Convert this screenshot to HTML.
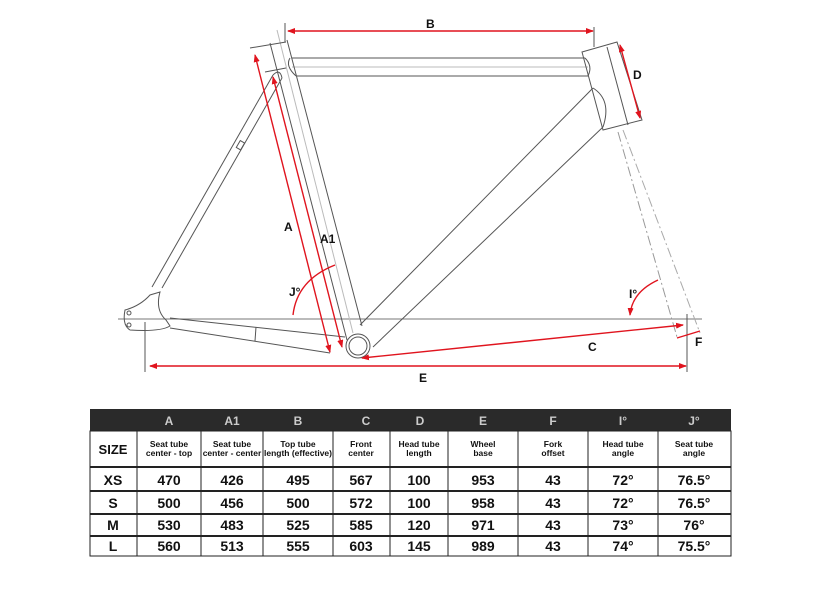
<!DOCTYPE html>
<html><head><meta charset="utf-8"><style>
html,body{margin:0;padding:0;background:#fff;width:822px;height:600px;overflow:hidden}
svg{display:block}
text{font-family:"Liberation Sans Narrow","Liberation Sans",sans-serif;font-weight:bold}
</style></head><body>
<svg width="822" height="600" viewBox="0 0 822 600" xmlns="http://www.w3.org/2000/svg">
<defs>
<marker id="ar" markerWidth="8" markerHeight="6" refX="7" refY="3" orient="auto" markerUnits="userSpaceOnUse"><path d="M0,0 L8,3 L0,6z" fill="#e0141e"/></marker>
<marker id="al" markerWidth="8" markerHeight="6" refX="1" refY="3" orient="auto" markerUnits="userSpaceOnUse"><path d="M8,0 L0,3 L8,6z" fill="#e0141e"/></marker>
</defs>
<g stroke="#555" stroke-width="1" fill="none">
<line x1="118" y1="319" x2="702" y2="319" stroke="#777"/>
<line x1="145" y1="322" x2="145" y2="372"/>
<line x1="687" y1="314" x2="687" y2="372"/>
<line x1="285" y1="23" x2="285" y2="42"/>
<line x1="594" y1="27" x2="594" y2="47"/>
<line x1="292" y1="58" x2="585" y2="58"/>
<line x1="296" y1="76" x2="588" y2="76"/>
<line x1="292" y1="67" x2="588" y2="67" stroke="#bbb"/>
<line x1="270" y1="43" x2="347" y2="340"/>
<line x1="277" y1="30" x2="353" y2="333" stroke="#bbb"/>
<line x1="287" y1="40" x2="362" y2="326"/>
<line x1="250" y1="48" x2="286" y2="42"/>
<line x1="265" y1="72" x2="286" y2="68"/>
<path d="M290,58 Q285,66 296,76"/>
<line x1="152" y1="287" x2="273" y2="75"/>
<line x1="162" y1="288" x2="282" y2="78"/>
<path d="M273,75 Q280,68 282,78"/>
<rect x="238" y="141" width="5" height="8" transform="rotate(30 240 145)"/>
<path d="M125,310 Q140,306 150,295 L160,292 Q155,310 166,320 L170,326 Q160,332 130,330 Q122,325 125,310z"/>
<circle cx="129" cy="313" r="2"/><circle cx="129" cy="325" r="2"/>
<line x1="170" y1="318" x2="345" y2="337"/>
<line x1="170" y1="328" x2="330" y2="353"/>
<line x1="256" y1="327" x2="255" y2="341"/>
<circle cx="358" cy="346" r="12"/>
<circle cx="358" cy="346" r="9"/>
<line x1="360" y1="325" x2="593" y2="88"/>
<line x1="373" y1="347" x2="603" y2="127"/>
<path d="M593,88 Q612,100 603,127"/>
<path d="M585,58 Q593,66 588,76"/>
<polygon points="582,52 617,42 642,120 603,130"/>
<line x1="607" y1="47" x2="628" y2="125"/>
<line x1="618" y1="132" x2="677" y2="337" stroke="#999" stroke-dasharray="10,3,2,3"/>
<line x1="623" y1="130" x2="700" y2="333" stroke="#aaa" stroke-dasharray="10,3,2,3"/>
</g>
<g stroke="#e0141e" stroke-width="1.4" fill="none">
<line x1="288" y1="31" x2="593" y2="31" marker-start="url(#al)" marker-end="url(#ar)"/>
<line x1="255" y1="55" x2="330" y2="352" marker-start="url(#al)" marker-end="url(#ar)"/>
<line x1="273" y1="77" x2="342" y2="347" marker-start="url(#al)" marker-end="url(#ar)"/>
<line x1="620" y1="45" x2="640" y2="118" marker-start="url(#al)" marker-end="url(#ar)"/>
<line x1="362" y1="358" x2="683" y2="325" marker-start="url(#al)" marker-end="url(#ar)"/>
<line x1="150" y1="366" x2="686" y2="366" marker-start="url(#al)" marker-end="url(#ar)"/>
<line x1="677" y1="338" x2="700" y2="331"/>
<path d="M293,315 Q297,280 335,265"/>
<path d="M630,315 Q632,292 658,280" marker-start="url(#al)"/>
</g>
<g fill="#111" font-size="12">
<text x="426" y="28">B</text>
<text x="633" y="79">D</text>
<text x="284" y="231">A</text>
<text x="320" y="243">A1</text>
<text x="289" y="296">J°</text>
<text x="629" y="298">I°</text>
<text x="588" y="351">C</text>
<text x="695" y="346">F</text>
<text x="419" y="382">E</text>
</g>
<rect x="90" y="409" width="641" height="22" fill="#2a2a2a"/>
<g fill="#ccc" font-size="12" text-anchor="middle">
<text x="169" y="425">A</text><text x="232" y="425">A1</text><text x="298" y="425">B</text><text x="366" y="425">C</text><text x="420" y="425">D</text><text x="483" y="425">E</text><text x="553" y="425">F</text><text x="623" y="425">I°</text><text x="694" y="425">J°</text>
</g>
<g stroke="#222" stroke-width="1" fill="none">
<rect x="90" y="431" width="641" height="125"/>
<line x1="90" y1="467" x2="731" y2="467" stroke-width="2"/>
<line x1="90" y1="491" x2="731" y2="491" stroke-width="2"/>
<line x1="90" y1="514" x2="731" y2="514" stroke-width="2"/>
<line x1="90" y1="536" x2="731" y2="536" stroke-width="2"/>
<line x1="137" y1="431" x2="137" y2="556"/><line x1="201" y1="431" x2="201" y2="556"/><line x1="263" y1="431" x2="263" y2="556"/><line x1="333" y1="431" x2="333" y2="556"/><line x1="390" y1="431" x2="390" y2="556"/><line x1="448" y1="431" x2="448" y2="556"/><line x1="518" y1="431" x2="518" y2="556"/><line x1="588" y1="431" x2="588" y2="556"/><line x1="658" y1="431" x2="658" y2="556"/>
</g>
<g fill="#111" text-anchor="middle">
<text x="113" y="454" font-size="13">SIZE</text>
<g font-size="8.5">
<text x="169" y="447">Seat tube</text><text x="169" y="456">center - top</text>
<text x="232" y="447">Seat tube</text><text x="232" y="456">center - center</text>
<text x="298" y="447">Top tube</text><text x="298" y="456">length (effective)</text>
<text x="361" y="447">Front</text><text x="361" y="456">center</text>
<text x="419" y="447">Head tube</text><text x="419" y="456">length</text>
<text x="483" y="447">Wheel</text><text x="483" y="456">base</text>
<text x="553" y="447">Fork</text><text x="553" y="456">offset</text>
<text x="623" y="447">Head tube</text><text x="623" y="456">angle</text>
<text x="694" y="447">Seat tube</text><text x="694" y="456">angle</text>
</g>
<g font-size="14">
<text x="113" y="485">XS</text><text x="169" y="485">470</text><text x="232" y="485">426</text><text x="298" y="485">495</text><text x="361" y="485">567</text><text x="419" y="485">100</text><text x="483" y="485">953</text><text x="553" y="485">43</text><text x="623" y="485">72°</text><text x="694" y="485">76.5°</text>
<text x="113" y="508">S</text><text x="169" y="508">500</text><text x="232" y="508">456</text><text x="298" y="508">500</text><text x="361" y="508">572</text><text x="419" y="508">100</text><text x="483" y="508">958</text><text x="553" y="508">43</text><text x="623" y="508">72°</text><text x="694" y="508">76.5°</text>
<text x="113" y="530">M</text><text x="169" y="530">530</text><text x="232" y="530">483</text><text x="298" y="530">525</text><text x="361" y="530">585</text><text x="419" y="530">120</text><text x="483" y="530">971</text><text x="553" y="530">43</text><text x="623" y="530">73°</text><text x="694" y="530">76°</text>
<text x="113" y="551">L</text><text x="169" y="551">560</text><text x="232" y="551">513</text><text x="298" y="551">555</text><text x="361" y="551">603</text><text x="419" y="551">145</text><text x="483" y="551">989</text><text x="553" y="551">43</text><text x="623" y="551">74°</text><text x="694" y="551">75.5°</text>
</g>
</g>
</svg>
</body></html>
